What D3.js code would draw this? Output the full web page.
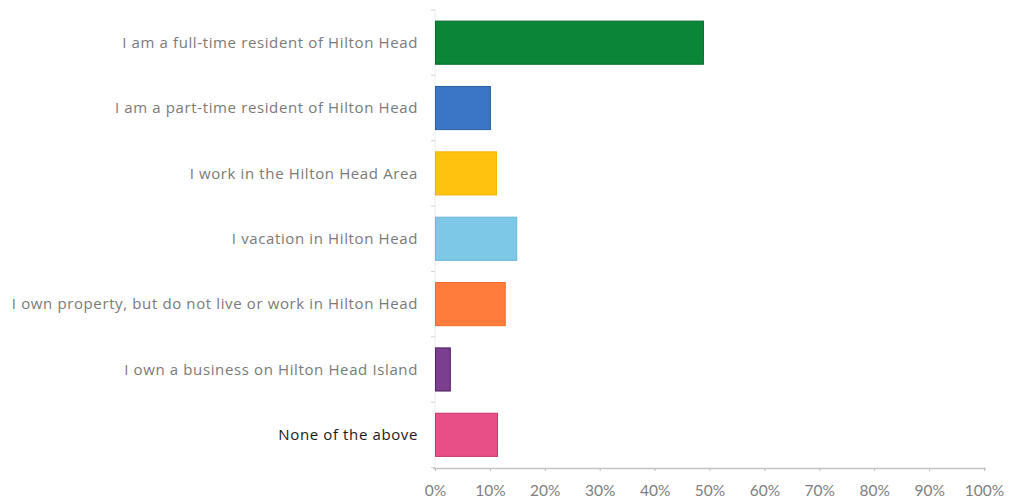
<!DOCTYPE html>
<html>
<head>
<meta charset="utf-8">
<script src="https://cdn.jsdelivr.net/npm/d3@7"></script>
<style>
  html, body { margin: 0; padding: 0; background: #fff; }
  svg { display: block; }
</style>
</head>
<body>
<svg id="chart" width="1011" height="504"></svg>
<script>
// Survey answers, top to bottom
const categories = [
  "I am a full-time resident of Hilton Head",
  "I am a part-time resident of Hilton Head",
  "I work in the Hilton Head Area",
  "I vacation in Hilton Head",
  "I own property, but do not live or work in Hilton Head",
  "I own a business on Hilton Head Island",
  "None of the above"
];
// Share of respondents (%)
const shares = [48.8, 10.0, 11.1, 14.8, 12.7, 2.7, 11.3];
const barColors = ["#0b8538", "#3a76c4", "#ffc20e", "#7cc8e6", "#ff7c3c", "#7b3f8f", "#e74f86"];
const edgeColors = ["#086a2c", "#2b5ea3", "#f0b400", "#69b8d8", "#ef6a2c", "#4e2360", "#c7356b"];
const tickValues = [0, 10, 20, 30, 40, 50, 60, 70, 80, 90, 100];

const svg = d3.select("#chart");
const labelFont = "'Open Sans', sans-serif";
const tickFont = "Lato, 'Open Sans', sans-serif";

const x = d3.scaleLinear().domain([0, 100]).range([435, 984]);
const y = d3.scaleBand().domain(categories).range([10, 467.5]).paddingInner(0.34).paddingOuter(0.17);

// faint vertical axis with small ticks between categories
svg.append("line")
  .attr("x1", 435).attr("x2", 435).attr("y1", 10).attr("y2", 468)
  .attr("stroke", "#ececec").attr("stroke-width", 1);
const bandEdges = categories.map(c => y(c) - y.step() * y.paddingInner() / 2);
bandEdges.push(467.5);
svg.append("g").selectAll("line").data(bandEdges).join("line")
  .attr("x1", 431).attr("x2", 435)
  .attr("y1", d => d).attr("y2", d => d)
  .attr("stroke", "#d4d4d4");

// bars
svg.append("g").selectAll("rect").data(categories).join("rect")
  .attr("x", x(0) + 0.5)
  .attr("y", d => y(d))
  .attr("width", (d, i) => x(shares[i]) - x(0))
  .attr("height", y.bandwidth())
  .attr("fill", (d, i) => barColors[i])
  .attr("stroke", (d, i) => edgeColors[i])
  .attr("stroke-width", 1);

// category labels
svg.append("g").selectAll("text").data(categories).join("text")
  .attr("x", 418)
  .attr("y", d => y(d) + y.bandwidth() / 2)
  .attr("dy", "0.35em")
  .attr("text-anchor", "end")
  .attr("font-family", labelFont)
  .attr("font-size", 15)
  .attr("letter-spacing", "0.62px")
  .attr("fill", (d, i) => i === categories.length - 1 ? "#1a1a1a" : "#7a7a7a")
  .text(d => d);

// bottom axis
const xAxis = d3.axisBottom(x)
  .tickValues(tickValues)
  .tickFormat(d => d + "%")
  .tickSize(3)
  .tickPadding(14);
const gx = svg.append("g").attr("transform", "translate(0,468)").call(xAxis);
gx.select(".domain").attr("stroke", "#c4c4c4").attr("stroke-width", 1.5)
  .attr("d", "M433,0.5H986");
gx.selectAll(".tick line").attr("stroke", "#bdbdbd");
gx.selectAll(".tick text")
  .attr("font-family", tickFont)
  .attr("font-size", 15.5)
  .attr("fill", "#808080");
</script>
</body>
</html>
